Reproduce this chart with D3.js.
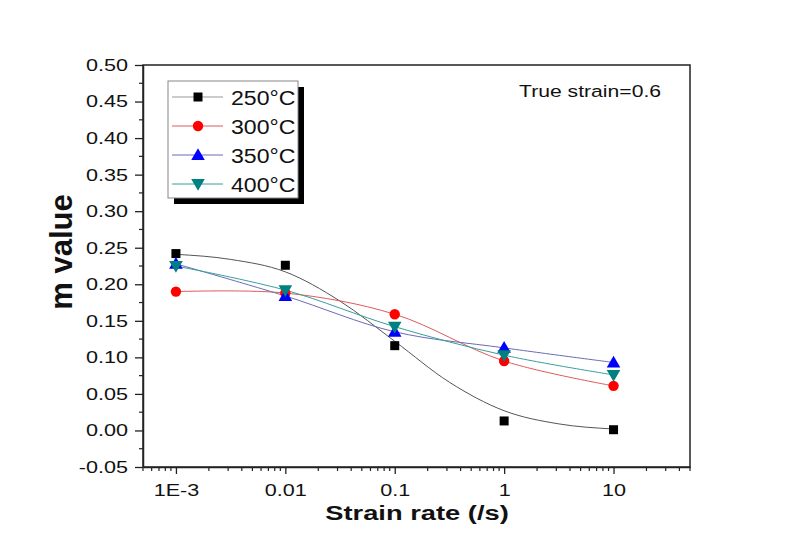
<!DOCTYPE html>
<html>
<head>
<meta charset="utf-8">
<script src="https://cdn.jsdelivr.net/npm/d3@7"></script>
<style>
  html, body { margin: 0; padding: 0; background: #fff; }
  svg { display: block; font-family: Arial, "Liberation Sans", sans-serif; }
</style>
</head>
<body>
<svg id="chart" width="802" height="560"></svg>
<script>
// ---- data ----
const rates = [0.001, 0.01, 0.1, 1, 10];
const m250 = [0.242, 0.226, 0.116, 0.013, 0.001];
const m300 = [0.190, 0.188, 0.159, 0.095, 0.061];
const m350 = [0.228, 0.184, 0.135, 0.113, 0.093];
const m400 = [0.225, 0.192, 0.142, 0.103, 0.076];
// fitted curve for 250°C
const fitRates = [0.001, 0.00316, 0.01, 0.0316, 0.1, 0.316, 1, 3.16, 10];
const fit250 = [0.241, 0.234, 0.217, 0.177, 0.122, 0.066, 0.027, 0.009, 0.002];
const seriesNames = ["250°C", "300°C", "350°C", "400°C"];
const xTickValues = [0.001, 0.01, 0.1, 1, 10];
const xTickLabels = ["1E-3", "0.01", "0.1", "1", "10"];
const yTickValues = [-0.05, 0, 0.05, 0.1, 0.15, 0.2, 0.25, 0.3, 0.35, 0.4, 0.45, 0.5];

// ---- layout ----
const L = 143, R = 690, T = 65, B = 467;
const SX = 1.27; // horizontal stretch of text in reference

const svg = d3.select("#chart");
const x = d3.scaleLog().domain([0.0005, 50]).range([L, R]);
const y = d3.scaleLinear().domain([-0.05, 0.5]).range([B, T]);

const styles = [
  {line: "#555555", fill: "#000000", sym: d3.symbolSquare, size: 81, rot: 0},
  {line: "#e05a5a", fill: "#ff0000", sym: d3.symbolCircle, size: 85, rot: 0},
  {line: "#6a6ab8", fill: "#0000ff", sym: d3.symbolTriangle, size: 80, rot: 0},
  {line: "#3a9e9e", fill: "#008080", sym: d3.symbolTriangle, size: 80, rot: 180}
];
const series = [m250, m300, m350, m400];

// ---- frame ----
svg.append("rect").attr("x", L).attr("y", T).attr("width", R - L).attr("height", B - T)
  .attr("fill", "none").attr("stroke", "#222").attr("stroke-width", 1.5);

// ---- x axis ----
const xAxis = d3.axisBottom(x).tickValues(xTickValues)
  .tickFormat((d, i) => xTickLabels[i]).tickSize(7).tickSizeOuter(0);
const gx = svg.append("g").attr("transform", `translate(0,${B})`).call(xAxis);
gx.select(".domain").attr("stroke", "#222").attr("stroke-width", 1.5);
gx.selectAll(".tick line").attr("stroke", "#222").attr("stroke-width", 1.3);
gx.selectAll(".tick text").attr("font-size", 17).attr("fill", "#111")
  .attr("font-family", "Arial, 'Liberation Sans', sans-serif")
  .attr("y", 29.5).attr("dy", 0)
  .attr("transform", `scale(${SX},1)`);
// minor x ticks
const minorX = x.ticks().filter(v => xTickValues.indexOf(v) < 0);
svg.append("g").selectAll("line").data(minorX).join("line")
  .attr("x1", d => x(d)).attr("x2", d => x(d))
  .attr("y1", B).attr("y2", B + 4)
  .attr("stroke", "#222").attr("stroke-width", 1.2);

// ---- y axis ----
const fmt = d3.format(".2f");
const yAxis = d3.axisLeft(y).tickValues(yTickValues)
  .tickFormat(d => fmt(d).replace("\u2212", "-")).tickSize(8).tickSizeOuter(0);
const gy = svg.append("g").attr("transform", `translate(${L},0)`).call(yAxis);
gy.select(".domain").attr("stroke", "#222").attr("stroke-width", 1.5);
gy.selectAll(".tick line").attr("stroke", "#222").attr("stroke-width", 1.3);
gy.selectAll(".tick text").attr("font-size", 17).attr("fill", "#111")
  .attr("font-family", "Arial, 'Liberation Sans', sans-serif")
  .attr("x", -15 / SX)
  .attr("transform", `scale(${SX},1)`);
// minor y ticks
const minorY = d3.range(0, 11).map(i => (yTickValues[i] + yTickValues[i + 1]) / 2);
svg.append("g").selectAll("line").data(minorY).join("line")
  .attr("x1", L).attr("x2", L - 4)
  .attr("y1", d => y(d)).attr("y2", d => y(d))
  .attr("stroke", "#222").attr("stroke-width", 1.2);

// ---- axis titles ----
svg.append("text").attr("transform", `translate(417,520) scale(1.3,1)`)
  .attr("text-anchor", "middle").attr("font-weight", "bold").attr("font-size", 21)
  .attr("fill", "#111").text("Strain rate (/s)");
svg.append("text").attr("transform", "translate(72,252) rotate(-90)")
  .attr("text-anchor", "middle").attr("font-weight", "bold").attr("font-size", 31)
  .attr("fill", "#111").text("m value");

// ---- annotation ----
svg.append("text").attr("transform", `translate(519,97) scale(1.245,1)`)
  .attr("font-size", 17).attr("fill", "#111").text("True strain=0.6");

// ---- lines ----
const plot = svg.append("g");
const fitLine = d3.line().x((d, i) => x(fitRates[i])).y(d => y(d)).curve(d3.curveMonotoneX);
plot.append("path").attr("d", fitLine(fit250)).attr("fill", "none")
  .attr("stroke", styles[0].line).attr("stroke-width", 1);
const spl = d3.line().x((d, i) => x(rates[i])).y(d => y(d)).curve(d3.curveCatmullRom.alpha(0.5));
[1, 2, 3].forEach(k => {
  plot.append("path").attr("d", spl(series[k])).attr("fill", "none")
    .attr("stroke", styles[k].line).attr("stroke-width", 1);
});

// ---- markers ----
series.forEach((vals, k) => {
  const st = styles[k];
  const sym = d3.symbol().type(st.sym).size(st.size);
  plot.append("g").selectAll("path").data(vals).join("path")
    .attr("d", sym)
    .attr("transform", (d, i) => `translate(${x(rates[i])},${y(d) + (k >= 2 ? (st.rot ? -1 : 1) : 0)}) rotate(${st.rot})`)
    .attr("fill", st.fill);
});

// ---- legend ----
const lg = svg.append("g");
lg.append("rect").attr("x", 174).attr("y", 87).attr("width", 130).attr("height", 117).attr("fill", "#000");
lg.append("rect").attr("x", 168).attr("y", 81).attr("width", 130).attr("height", 117)
  .attr("fill", "#fff").attr("stroke", "#888").attr("stroke-width", 1);
const legendY = [97, 126, 155, 184];
seriesNames.forEach((name, k) => {
  const st = styles[k];
  const yy = legendY[k];
  lg.append("line").attr("x1", 172).attr("x2", 223).attr("y1", yy).attr("y2", yy)
    .attr("stroke", k === 0 ? "#999" : st.line).attr("stroke-width", 1);
  lg.append("path").attr("d", d3.symbol().type(st.sym).size(st.size)())
    .attr("transform", `translate(198,${yy + (k >= 2 ? (st.rot ? -1 : 1) : 0)}) rotate(${st.rot})`)
    .attr("fill", st.fill);
  lg.append("text").attr("transform", `translate(231,${yy + 8}) scale(1.1,1)`)
    .attr("font-size", 21).attr("fill", "#111").text(name);
});
</script>
</body>
</html>
